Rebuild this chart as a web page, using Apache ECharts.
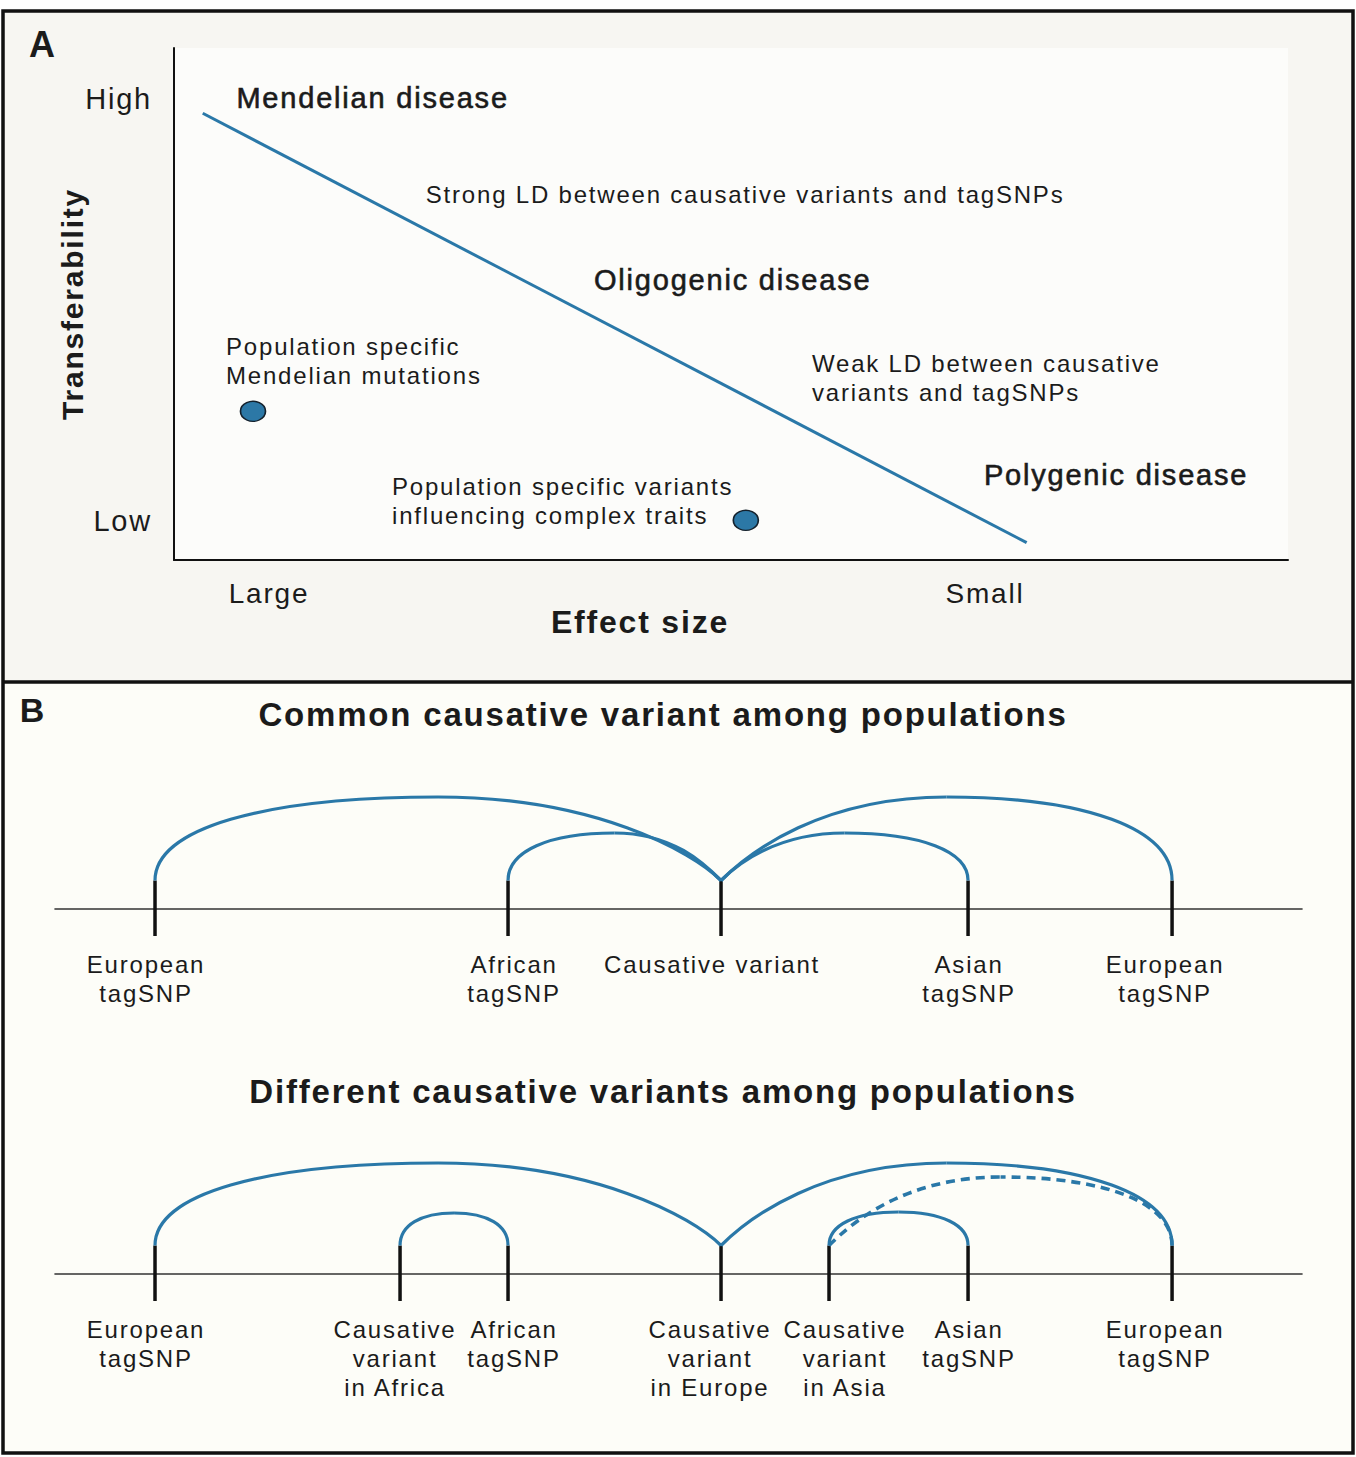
<!DOCTYPE html>
<html>
<head>
<meta charset="utf-8">
<script src="https://cdn.jsdelivr.net/npm/echarts@6/dist/echarts.min.js"></script>
<style>
html, body { margin: 0; padding: 0; background: #ffffff; }
#chart { width: 1356px; height: 1457px; }
#chart svg text { letter-spacing: 1.8px; }
</style>
</head>
<body>
<div id="chart"></div>
<script>
// ---------------- Panel A data (value units: 0-100 on both axes) ----------------
const effectTickValues = [8.53, 72.8];
const effectTickLabels = ['Large', 'Small'];
const transferTickValues = [90.0, 7.6];
const transferTickLabels = ['High', 'Low'];
const trendX = [2.58, 76.54];
const trendY = [87.25, 3.38];
const variantX = [7.09, 51.33];
const variantY = [29.04, 7.75];
const noteText = [
  'Mendelian disease',
  'Strong LD between causative variants and tagSNPs',
  'Oligogenic disease',
  'Population specific\nMendelian mutations',
  'Weak LD between causative\nvariants and tagSNPs',
  'Polygenic disease',
  'Population specific variants\ninfluencing complex traits'
];
const noteX = [5.6, 22.6, 37.7, 4.67, 57.27, 72.7, 19.57];
const noteY = [90.3, 71.3, 54.7, 38.96, 35.64, 16.6, 11.43];
const noteIsHeading = [1, 0, 1, 0, 0, 1, 0];

// ---------------- Panel B data (position units 0-100 along the line, LD height units) ----------------
const row1Names = ['European\ntagSNP', 'African\ntagSNP', 'Causative variant', 'Asian\ntagSNP', 'European\ntagSNP'];
const row1Pos = [8.02, 36.33, 53.41, 73.22, 89.58];
// [from, to, peak height, fromEnd(0 vertical / 1 cusp), toEnd, dashed]
const row1Arcs = [
  [8.02, 53.41, 11.2, 0, 1, 0],
  [36.33, 53.41, 7.6, 0, 1, 0],
  [53.41, 73.22, 7.6, 1, 0, 0],
  [53.41, 89.58, 11.2, 1, 0, 0]
];
const row2Names = ['European\ntagSNP', 'Causative\nvariant\nin Africa', 'African\ntagSNP', 'Causative\nvariant\nin Europe', 'Causative\nvariant\nin Asia', 'Asian\ntagSNP', 'European\ntagSNP'];
const row2Pos = [8.02, 27.67, 36.33, 53.41, 62.07, 73.22, 89.58];
const row2Arcs = [
  [8.02, 53.41, 11.1, 0, 1, 0],
  [27.67, 36.33, 6.1, 0, 0, 0],
  [53.41, 89.58, 11.1, 1, 0, 0],
  [62.07, 73.22, 6.2, 0, 0, 0],
  [62.07, 89.58, 9.7, 1, 0, 1]
];

// ---------------- layout / styles ----------------
const FONT = '"Liberation Sans", Arial, Helvetica, sans-serif';
const INK = '#1b1b1b';
const BLUE = '#2a78a8';
const TICK_TOP = 2.85, TICK_BOTTOM = -2.7;
const LABEL_GAP = 41; // px below the line
const row1LabelNudge = [-9, 6, -9, 1, -7];          // px, horizontal label shifts
const row2LabelNudge = [-9, -5, 6, -11, 16, 1, -7];

function labelFor(values, labels) {
  return function (v) {
    for (let i = 0; i < values.length; i++) {
      if (Math.abs(values[i] - v) < 1e-6) return labels[i];
    }
    return '';
  };
}

function renderArc(params, api) {
  const xa = api.value(0), xb = api.value(1), h = api.value(2);
  const endA = api.value(3), endB = api.value(4), dashed = api.value(5);
  const a = api.coord([xa, TICK_TOP]);
  const b = api.coord([xb, TICK_TOP]);
  const p = api.coord([(xa + xb) / 2, h]);
  const H = a[1] - p[1];
  const K = 0.62, RUN = 0.55, DROP = 0.35;
  function half(end, dir, cusp) {
    const w = Math.abs(p[0] - end[0]);
    let c1, c2;
    if (cusp) {
      c1 = [end[0] - dir * DROP * H, end[1] - DROP * H];
      c2 = [p[0] + dir * RUN * w, p[1]];
    } else {
      c1 = [end[0], end[1] - K * H];
      c2 = [p[0] + dir * K * w, p[1]];
    }
    return {
      type: 'bezierCurve',
      shape: { x1: end[0], y1: end[1], cpx1: c1[0], cpy1: c1[1], cpx2: c2[0], cpy2: c2[1], x2: p[0], y2: p[1] },
      style: { stroke: BLUE, lineWidth: dashed ? 3.6 : 3.2, fill: 'none', lineDash: dashed ? [9, 6] : null }
    };
  }
  return { type: 'group', children: [half(a, -1, endA === 1), half(b, 1, endB === 1)] };
}

function renderTick(params, api) {
  const t = api.coord([api.value(0), TICK_TOP]);
  const bt = api.coord([api.value(0), TICK_BOTTOM]);
  return {
    type: 'line',
    shape: { x1: t[0], y1: t[1], x2: bt[0], y2: bt[1] },
    style: { stroke: '#111111', lineWidth: 3.5 }
  };
}

function makeSiteLabelRenderer(names, nudge) {
  return function (params, api) {
    const i = api.value(1);
    const pt = api.coord([api.value(0), 0]);
    return {
      type: 'text',
      x: pt[0] + nudge[i], y: pt[1] + LABEL_GAP,
      style: {
        text: names[i], fill: INK, fontFamily: FONT, fontSize: 24, lineHeight: 29,
        align: 'center', verticalAlign: 'top'
      }
    };
  };
}

function renderNote(params, api) {
  const i = api.value(2);
  const pt = api.coord([api.value(0), api.value(1)]);
  const heading = noteIsHeading[i] === 1;
  return {
    type: 'text',
    x: pt[0], y: pt[1],
    style: {
      text: noteText[i],
      fill: INK,
      fontFamily: FONT,
      fontSize: heading ? 29 : 24,
      lineHeight: 29,
      align: 'left',
      verticalAlign: 'middle',
      stroke: heading ? INK : null,
      lineWidth: heading ? 0.6 : 0
    }
  };
}

function rowXAxis(gridIndex) {
  return {
    type: 'value', gridIndex: gridIndex, min: 0, max: 100,
    axisLine: { show: true, onZero: true, lineStyle: { color: '#333333', width: 1.6 } },
    axisTick: { show: false },
    splitLine: { show: false },
    axisLabel: { show: false }
  };
}
function rowYAxis(gridIndex) {
  return { type: 'value', gridIndex: gridIndex, min: -4, max: 12, show: false };
}

const chart = echarts.init(document.getElementById('chart'), null, { renderer: 'svg', width: 1356, height: 1457 });

const titleText = (text, x, y, size) => ({
  type: 'text', x: x, y: y, z: 50,
  style: { text: text, fill: INK, fontFamily: FONT, fontSize: size, fontWeight: 'bold', align: 'center', verticalAlign: 'middle' }
});

chart.setOption({
  animation: false,
  backgroundColor: '#ffffff',
  textStyle: { fontFamily: FONT },
  graphic: [
    { type: 'rect', z: -10, shape: { x: 3, y: 11, width: 1350, height: 671 }, style: { fill: '#f7f6f2' } },
    { type: 'rect', z: -10, shape: { x: 3, y: 682, width: 1350, height: 771 }, style: { fill: '#fdfdf8' } },
    { type: 'rect', z: 100, shape: { x: 3, y: 11, width: 1350, height: 1442 }, style: { fill: 'none', stroke: '#111111', lineWidth: 3.5 } },
    { type: 'line', z: 100, shape: { x1: 3, y1: 682, x2: 1353, y2: 682 }, style: { stroke: '#111111', lineWidth: 3.5 } },
    titleText('A', 43, 44, 36),
    titleText('B', 33, 710, 34),
    titleText('Common causative variant among populations', 663, 714, 33),
    titleText('Different causative variants among populations', 663, 1091, 33)
  ],
  grid: [
    { left: 174, top: 48, width: 1114, height: 512, show: true, backgroundColor: '#fcfcfa', borderWidth: 0, outerBoundsMode: 'none', containLabel: false },
    { left: 55, top: 789, width: 1247, height: 160, outerBoundsMode: 'none', containLabel: false },
    { left: 55, top: 1154, width: 1247, height: 160, outerBoundsMode: 'none', containLabel: false }
  ],
  xAxis: [
    {
      type: 'value', gridIndex: 0, min: 0, max: 100,
      name: 'Effect size', nameLocation: 'middle', nameGap: 62, nameMoveOverlap: false,
      nameTextStyle: { fontSize: 32, fontWeight: 'bold', color: INK, verticalAlign: 'middle', padding: [0, 182, 0, 0] },
      axisLine: { show: true, onZero: false, lineStyle: { color: '#111111', width: 2 } },
      axisTick: { show: false },
      splitLine: { show: false },
      axisLabel: { show: true, customValues: effectTickValues, formatter: labelFor(effectTickValues, effectTickLabels), margin: 19, fontSize: 28, lineHeight: 28, color: INK }
    },
    rowXAxis(1),
    rowXAxis(2)
  ],
  yAxis: [
    {
      type: 'value', gridIndex: 0, min: 0, max: 100,
      name: 'Transferability', nameLocation: 'middle', nameGap: 102, nameMoveOverlap: false,
      nameTextStyle: { fontSize: 30, fontWeight: 'bold', color: INK, verticalAlign: 'middle' },
      axisLine: { show: true, onZero: false, lineStyle: { color: '#111111', width: 2 } },
      axisTick: { show: false },
      splitLine: { show: false },
      axisLabel: { show: true, customValues: transferTickValues, formatter: labelFor(transferTickValues, transferTickLabels), margin: 22, fontSize: 29, color: INK }
    },
    rowYAxis(1),
    rowYAxis(2)
  ],
  series: [
    {
      type: 'line', name: 'Transferability trend', xAxisIndex: 0, yAxisIndex: 0,
      data: trendX.map((x, i) => [x, trendY[i]]),
      symbol: 'none', lineStyle: { color: BLUE, width: 3 }, silent: true
    },
    {
      type: 'scatter', name: 'Population specific variants', xAxisIndex: 0, yAxisIndex: 0,
      data: variantX.map((x, i) => [x, variantY[i]]),
      symbol: 'circle', symbolSize: [25, 20],
      itemStyle: { color: '#2c78a6', borderColor: '#14212c', borderWidth: 1.5, opacity: 1 }
    },
    {
      type: 'custom', name: 'notes', xAxisIndex: 0, yAxisIndex: 0,
      data: noteX.map((x, i) => [x, noteY[i], i]),
      renderItem: renderNote, silent: true
    },
    {
      type: 'custom', name: 'row1 ticks', xAxisIndex: 1, yAxisIndex: 1,
      data: row1Pos.map(v => [v]), renderItem: renderTick, silent: true
    },
    {
      type: 'custom', name: 'row1 labels', xAxisIndex: 1, yAxisIndex: 1,
      data: row1Pos.map((v, i) => [v, i]), renderItem: makeSiteLabelRenderer(row1Names, row1LabelNudge), silent: true
    },
    {
      type: 'custom', name: 'row1 LD', xAxisIndex: 1, yAxisIndex: 1,
      data: row1Arcs, renderItem: renderArc, silent: true
    },
    {
      type: 'custom', name: 'row2 ticks', xAxisIndex: 2, yAxisIndex: 2,
      data: row2Pos.map(v => [v]), renderItem: renderTick, silent: true
    },
    {
      type: 'custom', name: 'row2 labels', xAxisIndex: 2, yAxisIndex: 2,
      data: row2Pos.map((v, i) => [v, i]), renderItem: makeSiteLabelRenderer(row2Names, row2LabelNudge), silent: true
    },
    {
      type: 'custom', name: 'row2 LD', xAxisIndex: 2, yAxisIndex: 2,
      data: row2Arcs, renderItem: renderArc, silent: true
    }
  ]
});
</script>
</body>
</html>
